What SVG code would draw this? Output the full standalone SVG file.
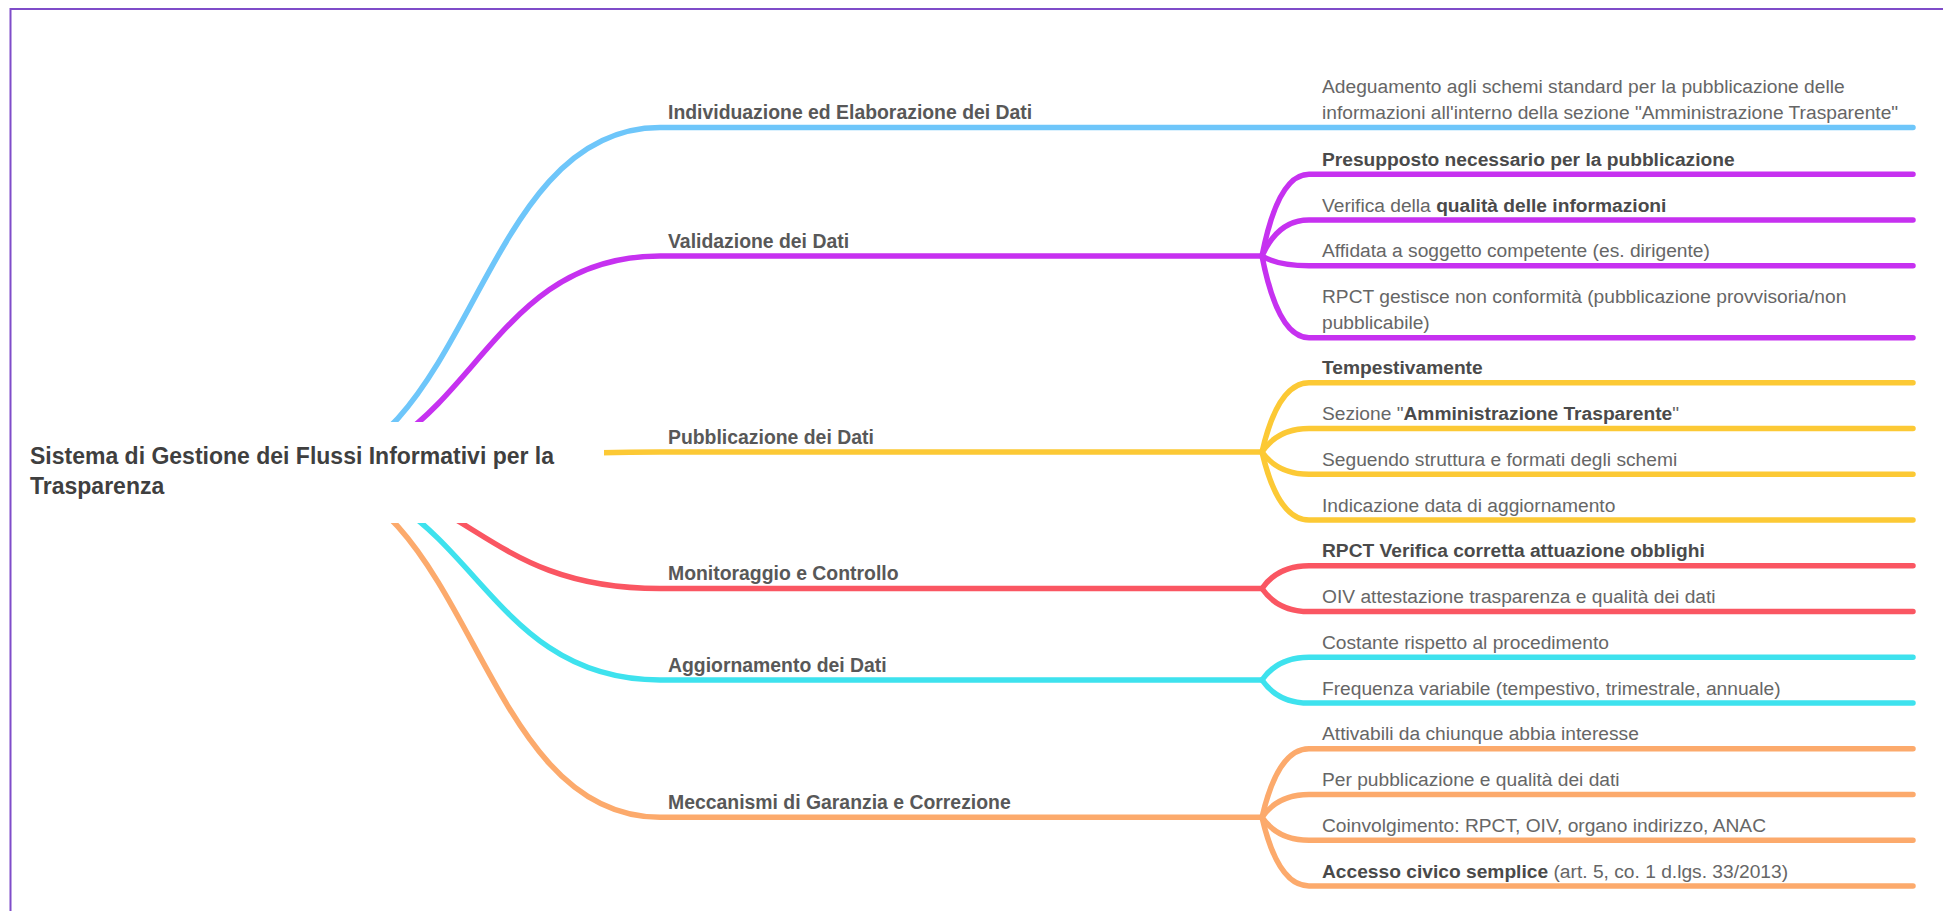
<svg xmlns="http://www.w3.org/2000/svg" width="1943" height="911" viewBox="0 0 1943 911">
<style>
.frame{fill:none;stroke:#7f4cc9;stroke-width:2}
.ln{fill:none;stroke-width:5.5;stroke-linecap:round;stroke-linejoin:round}
.blue{stroke:#6ec6fa}
.purple{stroke:#c631f0}
.yellow{stroke:#fcc935}
.red{stroke:#fa5662}
.cyan{stroke:#3ee2ee}
.orange{stroke:#fcaa6c}
.root{font-family:"Liberation Sans",Arial,sans-serif;font-weight:bold;font-size:23px;fill:#3f3f3f}
.lbl{font-family:"Liberation Sans",Arial,sans-serif;font-weight:bold;font-size:19.4px;fill:#585858}
.leaf{font-family:"Liberation Sans",Arial,sans-serif;font-size:19.2px;fill:#666}
.b{font-weight:bold;fill:#4a4a4a}
</style>
<rect x="0" y="0" width="1943" height="911" fill="#fff"/>
<rect class="frame" x="10.5" y="9" width="1960" height="960"/>

<g id="connectors">
  <path class="ln blue" d="M287,472.5 C473.5,472.5 473.5,127.5 660,127.5 L1913,127.5"/>
  <path class="ln purple" d="M287,472.5 C473.5,472.5 473.5,256 660,256 L1262,256"/>
  <path class="ln yellow" d="M287,472.5 C473.5,472.5 473.5,452 660,452 L1262,452"/>
  <path class="ln red" d="M287,472.5 C473.5,472.5 473.5,588.5 660,588.5 L1262,588.5"/>
  <path class="ln cyan" d="M287,472.5 C473.5,472.5 473.5,680 660,680 L1262,680"/>
  <path class="ln orange" d="M287,472.5 C473.5,472.5 473.5,817.3 660,817.3 L1262,817.3"/>

  <path class="ln purple" d="M1262,256 Q1278,174.3 1309,174.3 L1913,174.3"/>
  <path class="ln purple" d="M1262,256 Q1278,220 1309,220 L1913,220"/>
  <path class="ln purple" d="M1262,256 Q1278,265.8 1309,265.8 L1913,265.8"/>
  <path class="ln purple" d="M1262,256 Q1278,337.7 1309,337.7 L1913,337.7"/>

  <path class="ln yellow" d="M1262,452 Q1278,382.7 1309,382.7 L1913,382.7"/>
  <path class="ln yellow" d="M1262,452 Q1278,428.5 1309,428.5 L1913,428.5"/>
  <path class="ln yellow" d="M1262,452 Q1278,474.2 1309,474.2 L1913,474.2"/>
  <path class="ln yellow" d="M1262,452 Q1278,520 1309,520 L1913,520"/>

  <path class="ln red" d="M1262,588.5 Q1278,565.7 1309,565.7 L1913,565.7"/>
  <path class="ln red" d="M1262,588.5 Q1278,611.5 1309,611.5 L1913,611.5"/>

  <path class="ln cyan" d="M1262,680 Q1278,657.2 1309,657.2 L1913,657.2"/>
  <path class="ln cyan" d="M1262,680 Q1278,703 1309,703 L1913,703"/>

  <path class="ln orange" d="M1262,817.3 Q1278,748.7 1309,748.7 L1913,748.7"/>
  <path class="ln orange" d="M1262,817.3 Q1278,794.5 1309,794.5 L1913,794.5"/>
  <path class="ln orange" d="M1262,817.3 Q1278,840.2 1309,840.2 L1913,840.2"/>
  <path class="ln orange" d="M1262,817.3 Q1278,886 1309,886 L1913,886"/>
</g>

<g id="root">
  <rect x="14" y="422" width="590" height="101" fill="#fff"/>
  <text class="root" x="30" y="463.5">Sistema di Gestione dei Flussi Informativi per la</text>
  <text class="root" x="30" y="493.5">Trasparenza</text>
</g>

<g id="n-individuazione"><text class="lbl" x="668" y="119">Individuazione ed Elaborazione dei Dati</text></g>
<g id="n-validazione"><text class="lbl" x="668" y="247.5">Validazione dei Dati</text></g>
<g id="n-pubblicazione"><text class="lbl" x="668" y="443.5">Pubblicazione dei Dati</text></g>
<g id="n-monitoraggio"><text class="lbl" x="668" y="580">Monitoraggio e Controllo</text></g>
<g id="n-aggiornamento"><text class="lbl" x="668" y="671.5">Aggiornamento dei Dati</text></g>
<g id="n-meccanismi"><text class="lbl" x="668" y="808.8">Meccanismi di Garanzia e Correzione</text></g>

<g id="l-adeguamento">
  <text class="leaf" x="1322" y="92.5">Adeguamento agli schemi standard per la pubblicazione delle</text>
  <text class="leaf" x="1322" y="119">informazioni all'interno della sezione "Amministrazione Trasparente"</text>
</g>
<g id="l-presupposto"><text class="leaf b" x="1322" y="165.8">Presupposto necessario per la pubblicazione</text></g>
<g id="l-verifica"><text class="leaf" x="1322" y="211.5">Verifica della <tspan class="b">qualità delle informazioni</tspan></text></g>
<g id="l-affidata"><text class="leaf" x="1322" y="257.3">Affidata a soggetto competente (es. dirigente)</text></g>
<g id="l-rpct-gestisce">
  <text class="leaf" x="1322" y="302.5">RPCT gestisce non conformità (pubblicazione provvisoria/non</text>
  <text class="leaf" x="1322" y="329.2">pubblicabile)</text>
</g>
<g id="l-tempestivamente"><text class="leaf b" x="1322" y="374.2">Tempestivamente</text></g>
<g id="l-sezione"><text class="leaf" x="1322" y="420">Sezione "<tspan class="b">Amministrazione Trasparente</tspan>"</text></g>
<g id="l-seguendo"><text class="leaf" x="1322" y="465.7">Seguendo struttura e formati degli schemi</text></g>
<g id="l-indicazione"><text class="leaf" x="1322" y="511.5">Indicazione data di aggiornamento</text></g>
<g id="l-rpct-verifica"><text class="leaf b" x="1322" y="557.2">RPCT Verifica corretta attuazione obblighi</text></g>
<g id="l-oiv"><text class="leaf" x="1322" y="603">OIV attestazione trasparenza e qualità dei dati</text></g>
<g id="l-costante"><text class="leaf" x="1322" y="648.7">Costante rispetto al procedimento</text></g>
<g id="l-frequenza"><text class="leaf" x="1322" y="694.5">Frequenza variabile (tempestivo, trimestrale, annuale)</text></g>
<g id="l-attivabili"><text class="leaf" x="1322" y="740.2">Attivabili da chiunque abbia interesse</text></g>
<g id="l-per-pubblicazione"><text class="leaf" x="1322" y="786">Per pubblicazione e qualità dei dati</text></g>
<g id="l-coinvolgimento"><text class="leaf" x="1322" y="831.7">Coinvolgimento: RPCT, OIV, organo indirizzo, ANAC</text></g>
<g id="l-accesso"><text class="leaf" x="1322" y="877.5"><tspan class="b">Accesso civico semplice</tspan> (art. 5, co. 1 d.lgs. 33/2013)</text></g>
</svg>
